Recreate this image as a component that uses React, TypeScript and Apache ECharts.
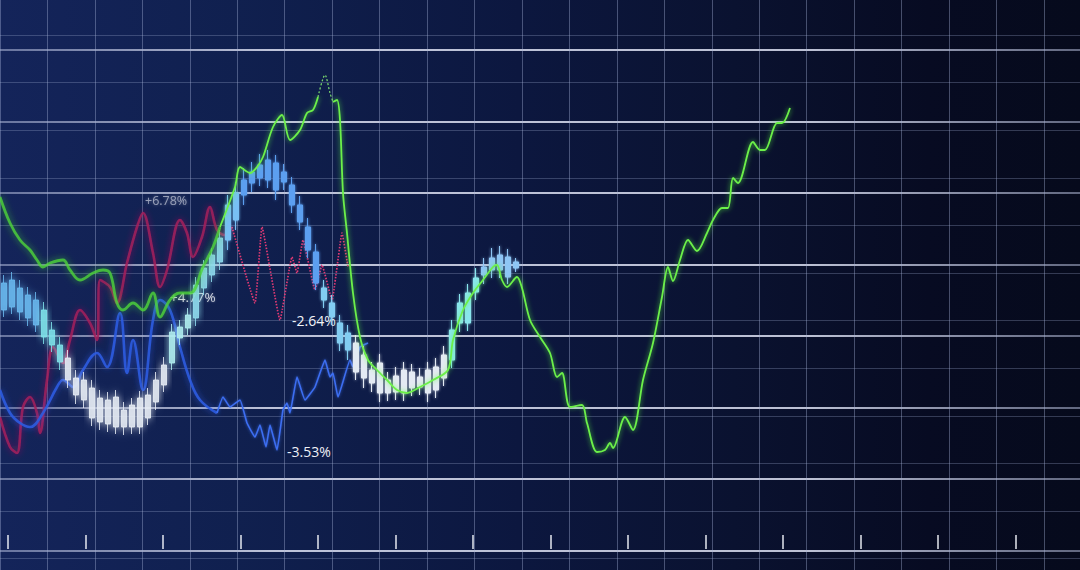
import React, { useEffect, useRef } from "react";
import * as echarts from "echarts";

// time (x) in units of the data axis, price (y)
const greenBlurred = [
  [0, 37.3], [1.0, 34.7], [2.0, 33.0], [3.0, 32.0], [3.7, 31.0], [4.3, 30.3], [5.0, 30.7],
  [6.3, 31.0], [7.0, 30.0], [8.0, 29.0], [9.3, 29.7], [10.3, 30.0], [11.0, 29.7], [11.7, 26.7],
  [12.3, 26.0], [13.3, 26.7], [14.3, 26.0], [15.3, 27.7], [16.0, 25.3], [17.0, 27.0], [18.0, 27.7],
  [19.0, 27.7], [20.3, 30.3], [21.3, 32.3], [22.0, 34.3],
];
const greenRise = [
  [22.0, 34.3], [23.5, 38.3], [24.0, 40.3], [25.0, 39.7], [25.7, 40.3], [26.3, 41.3], [27.3, 44.3],
  [28.2, 45.5], [29.0, 43.0], [30.0, 44.0], [30.7, 45.7], [31.3, 46.0], [31.8, 47.3],
];
const greenPeak = [[31.8, 47.3], [32.5, 49.5], [33.0, 47.7], [33.3, 46.8]];
const greenMain = [
  [33.3, 46.8], [33.7, 47.0], [34.0, 45.0], [34.3, 37.7], [34.7, 33.7], [35.3, 27.7], [36.0, 23.3],
  [36.8, 21.0], [37.7, 20.0], [38.7, 19.0], [39.7, 18.0], [40.7, 17.7], [42.0, 18.3], [43.3, 19.0],
  [44.8, 20.0], [45.3, 23.0], [46.3, 26.0], [47.3, 27.7], [48.3, 29.0], [49.3, 30.3], [49.7, 30.5],
  [50.2, 29.0], [50.7, 28.3], [51.7, 29.3], [52.2, 28.2], [53.0, 25.0], [54.0, 23.3], [55.0, 21.7],
  [55.7, 19.3], [56.2, 19.7], [57.0, 16.3], [58.2, 16.5], [58.7, 14.7], [59.7, 11.8], [60.5, 12.0],
  [61.0, 12.7], [61.3, 12.2], [62.5, 15.3], [63.3, 14.0], [64.3, 19.0], [65.3, 22.7], [66.2, 27.3],
  [66.8, 30.3], [67.3, 28.9], [68.0, 31.0], [68.8, 33.0], [69.7, 31.9], [70.7, 33.7], [71.3, 35.0],
  [72.2, 36.2], [72.8, 36.2], [73.3, 39.2], [73.8, 38.7], [75.3, 42.8], [76.0, 42.0], [76.5, 42.0],
  [77.7, 44.7], [78.2, 44.7], [79.0, 46.2],
];
const redSolid = [
  [0, 15.3], [1.0, 12.3], [1.7, 11.7], [2.3, 16.3], [3.0, 17.3], [3.7, 15.7], [4.0, 13.7],
  [4.7, 19.0], [5.3, 22.3], [6.3, 20.7], [7.0, 23.0], [8.0, 26.0], [9.0, 24.7], [9.7, 23.0],
  [10.0, 29.0], [11.0, 28.3], [11.7, 26.7], [12.7, 30.7], [13.7, 34.3], [14.3, 35.7], [15.3, 31.7],
  [16.0, 28.3], [16.7, 30.0], [18.0, 35.0], [18.7, 33.7], [19.3, 31.3], [20.2, 33.3], [21.0, 36.3],
  [21.7, 34.0], [22.5, 33.5], [23.2, 34.3],
];
const redDotted = [
  [23.2, 34.3], [25.5, 26.7], [26.2, 34.3], [28.0, 25.0], [29.2, 31.3], [29.7, 29.7], [30.3, 33.0],
  [31.5, 28.0], [32.2, 30.5], [33.2, 27.0], [34.2, 33.7], [34.8, 30.3],
];
const blueSmooth = [
  [0, 18.0], [1.0, 15.7], [2.0, 14.7], [3.0, 14.3], [4.3, 15.7], [5.7, 18.3], [6.3, 19.0],
  [7.3, 18.3], [8.3, 20.0], [9.7, 21.7], [10.7, 20.3], [12.0, 25.7], [12.7, 19.7], [13.3, 23.0],
  [14.3, 18.0], [15.3, 25.0], [16.0, 27.0], [17.0, 26.0], [18.0, 22.3], [19.0, 19.0], [20.0, 17.0],
  [21.7, 15.7],
];
const blueJagged = [
  [21.7, 15.7], [22.3, 17.3], [23.0, 16.3], [24.0, 17.0], [24.7, 14.7], [25.5, 13.3], [26.0, 14.5],
  [26.6, 12.3], [27.0, 14.5], [27.7, 12.0], [28.3, 16.0], [28.7, 16.7], [29.0, 15.7], [29.7, 19.3],
  [30.5, 17.0], [31.5, 18.3], [32.5, 21.0], [33.0, 19.3], [33.3, 19.7], [33.8, 17.3], [35.0, 21.0],
  [35.3, 20.3], [36.0, 22.3], [36.8, 22.7],
];
// [open, close, low, high]
const candles = [
  [26.0, 28.7, 25.3, 29.5], [26.3, 29.0, 25.6, 29.8], [25.8, 28.2, 25.0, 29.0], [25.2, 27.5, 24.4, 28.3],
  [24.5, 27.0, 23.8, 27.8], [23.3, 26.0, 22.6, 26.8], [22.5, 24.0, 21.8, 24.8], [20.8, 22.5, 20.0, 23.3],
  [19.0, 21.2, 18.2, 22.0], [17.5, 19.2, 16.6, 20.0], [17.0, 19.0, 16.2, 19.8], [15.2, 18.2, 14.4, 19.0],
  [14.8, 17.2, 14.0, 18.0], [14.6, 17.0, 13.8, 17.8], [14.3, 17.3, 13.6, 18.0], [14.3, 16.0, 13.5, 16.8],
  [14.3, 16.5, 13.6, 17.2], [14.3, 17.2, 13.6, 17.9], [15.2, 17.5, 14.5, 18.2], [16.8, 19.0, 16.0, 19.8],
  [18.5, 20.5, 17.8, 21.3], [20.7, 23.8, 20.0, 24.6], [23.2, 24.3, 22.5, 25.0], [24.2, 25.5, 23.5, 26.2],
  [25.2, 28.5, 24.4, 29.3], [28.2, 30.2, 27.5, 31.0], [29.5, 31.5, 28.8, 32.2], [30.8, 33.2, 30.0, 34.0],
  [33.0, 36.5, 32.0, 37.5], [35.0, 37.7, 34.0, 38.8], [37.5, 39.0, 36.5, 40.2], [38.7, 39.8, 37.8, 40.8],
  [39.2, 40.5, 38.4, 41.6], [39.0, 41.0, 38.2, 42.0], [38.0, 40.7, 37.0, 41.5], [38.8, 39.8, 38.0, 40.6],
  [36.5, 38.5, 35.7, 39.3], [34.8, 36.5, 34.0, 37.4], [32.0, 34.3, 31.2, 35.2], [28.7, 31.8, 28.0, 32.6],
  [27.0, 28.2, 26.2, 29.0], [25.3, 26.7, 24.5, 27.5], [22.7, 24.7, 21.9, 25.5], [22.0, 23.7, 21.0, 24.5],
  [19.8, 22.7, 19.0, 23.5], [19.2, 21.5, 18.2, 22.4], [18.7, 20.0, 17.8, 20.8], [17.7, 20.7, 16.8, 21.6],
  [17.7, 19.0, 16.9, 19.8], [17.8, 19.4, 17.0, 20.3], [17.7, 20.0, 16.9, 20.8], [18.2, 19.8, 17.4, 20.6],
  [18.3, 19.3, 17.5, 20.2], [17.7, 20.0, 16.8, 20.8], [18.0, 20.3, 17.2, 21.2], [19.2, 21.5, 18.4, 22.4],
  [21.0, 24.0, 20.2, 25.0], [24.7, 26.7, 23.8, 27.6], [24.7, 27.7, 23.9, 28.6], [27.8, 29.2, 27.0, 30.2],
  [29.5, 30.3, 28.6, 31.2], [30.0, 31.2, 29.2, 32.2], [30.0, 31.5, 29.2, 32.4], [29.3, 31.3, 28.6, 32.1],
  [30.2, 30.8, 29.8, 31.2],
];
const candleCategories = candles.map((_, i) => "t" + i);
const labels = ["+6.78%", "+4.77%", "-2.64%", "-3.53%"];

function candleColor(i: number): string {
  if (i <= 4) return "#6ab8ee";
  if (i <= 7) return "#7fe3ea";
  if (i <= 20) return "#e6ecf4";
  if (i <= 23) return "#b0eef0";
  if (i <= 27) return "#8fdcee";
  if (i <= 29) return "#78bff5";
  if (i <= 39) return "#5b9ff0";
  if (i <= 43) return "#82cdf2";
  if (i <= 55) return "#e4eaf3";
  if (i <= 59) return "#8ae6ee";
  return "#8ec6f5";
}

export default function App() {
  const ref = useRef<HTMLDivElement>(null);
  useEffect(() => {
    const chart = echarts.init(ref.current!, null, { renderer: "svg" });
    const brightGrad = new echarts.graphic.LinearGradient(
      0, 0, 1080, 0,
      [
        { offset: 0, color: "rgba(190,198,228,0.5)" },
        { offset: 0.25, color: "rgba(220,224,242,0.85)" },
        { offset: 0.75, color: "rgba(220,224,242,0.85)" },
        { offset: 1, color: "rgba(190,198,228,0.5)" },
      ],
      true
    );
    const hiddenAxisParts = {
      axisLine: { show: false },
      axisTick: { show: false },
      axisLabel: { show: false },
    };
    const candleData = candles.map((c, i) => ({
      value: c,
      itemStyle: {
        color: candleColor(i),
        color0: candleColor(i),
        borderColor: candleColor(i),
        borderColor0: candleColor(i),
        opacity: i <= 27 ? 0.85 : 1,
        shadowBlur: i <= 27 ? 7 : 3,
        shadowColor: candleColor(i),
      },
    }));
    const option: any = {
      animation: false,
      backgroundColor: "transparent",
      grid: [
        { left: 0, top: 0, width: 22 * 47.45, height: 570 },
        { left: 0, top: 35.1, width: 1080, height: 11 * 47.6 },
        { left: 0, top: 50, width: 1080, height: 7 * 71.5 },
        { left: 0, top: 0, width: 1080, height: 570 },
        { left: 0, top: 0, width: 520, height: 570 },
        { left: 8, top: 0, width: 13 * 77.5, height: 549 },
      ],
      xAxis: [
        {
          gridIndex: 0, type: "value", min: 0, max: 22, interval: 1, ...hiddenAxisParts,
          splitLine: { show: true, lineStyle: { color: "rgba(165,178,215,0.4)", width: 1 } },
        },
        { gridIndex: 1, type: "value", min: 0, max: 1, show: false },
        { gridIndex: 2, type: "value", min: 0, max: 1, show: false },
        { gridIndex: 3, type: "value", min: 0, max: 108, show: false },
        { gridIndex: 4, type: "category", data: candleCategories, show: false, boundaryGap: true },
        {
          gridIndex: 5, type: "value", min: 0, max: 13, interval: 1,
          axisLine: { show: false },
          axisTick: { show: true, inside: true, length: 14, lineStyle: { color: "rgba(240,243,250,0.95)", width: 1.5 } },
          axisLabel: { show: false },
          splitLine: { show: false },
        },
      ],
      yAxis: [
        { gridIndex: 0, type: "value", min: 0, max: 1, show: false },
        {
          gridIndex: 1, type: "value", min: 0, max: 11, interval: 1, ...hiddenAxisParts,
          splitLine: { show: true, lineStyle: { color: "rgba(160,172,210,0.3)", width: 1 } },
        },
        {
          gridIndex: 2, type: "value", min: 0, max: 7, interval: 1, ...hiddenAxisParts,
          splitLine: { show: true, lineStyle: { color: brightGrad, width: 2 } },
        },
        { gridIndex: 3, type: "value", min: 0, max: 57, show: false },
        { gridIndex: 4, type: "value", min: 0, max: 57, show: false },
        { gridIndex: 5, type: "value", min: 0, max: 1, show: false },
      ],
      series: [
        {
          type: "line", xAxisIndex: 3, yAxisIndex: 3, data: redSolid, smooth: 0.35, showSymbol: false, z: 3,
          lineStyle: { color: "#a41f5c", width: 2.6, opacity: 0.85, shadowBlur: 6, shadowColor: "rgba(170,30,90,0.8)" },
        },
        {
          type: "line", xAxisIndex: 3, yAxisIndex: 3, data: redDotted, smooth: 0.1, showSymbol: false, z: 3,
          lineStyle: { color: "#e23a74", width: 1.7, type: [1.5, 1.5] },
        },
        {
          type: "line", xAxisIndex: 3, yAxisIndex: 3, data: blueSmooth, smooth: 0.4, showSymbol: false, z: 3,
          lineStyle: { color: "#2d5be0", width: 2.6, opacity: 0.9, shadowBlur: 6, shadowColor: "rgba(45,90,230,0.8)" },
        },
        {
          type: "line", xAxisIndex: 3, yAxisIndex: 3, data: blueJagged, smooth: 0.1, showSymbol: false, z: 3,
          lineStyle: { color: "#3c6ef2", width: 1.6, shadowBlur: 3, shadowColor: "rgba(60,110,240,0.7)" },
        },
        {
          type: "candlestick", xAxisIndex: 4, yAxisIndex: 4, data: candleData, barWidth: 6, z: 4,
        },
        {
          type: "line", xAxisIndex: 3, yAxisIndex: 3, data: greenBlurred, smooth: 0.4, showSymbol: false, z: 5,
          lineStyle: { color: "#4fd43a", width: 2.8, opacity: 0.8, shadowBlur: 7, shadowColor: "rgba(70,220,50,0.8)" },
        },
        {
          type: "line", xAxisIndex: 3, yAxisIndex: 3, data: greenRise, smooth: 0.3, showSymbol: false, z: 5,
          lineStyle: { color: "#6cf04a", width: 1.8, shadowBlur: 5, shadowColor: "rgba(90,255,60,0.8)" },
        },
        {
          type: "line", xAxisIndex: 3, yAxisIndex: 3, data: greenPeak, smooth: 0.3, showSymbol: false, z: 5,
          lineStyle: { color: "#7ee070", width: 1.2, type: [2, 2] },
        },
        {
          type: "line", xAxisIndex: 3, yAxisIndex: 3, data: greenMain, smooth: 0.3, showSymbol: false, z: 5,
          lineStyle: { color: "#6cf04a", width: 1.8, shadowBlur: 5, shadowColor: "rgba(90,255,60,0.8)" },
        },
      ],
      graphic: [
        {
          type: "text", z: 1, style: {
            x: 145, y: 200, text: labels[0], fill: "rgba(225,228,240,0.6)", font: "12.5px 'Open Sans'",
            verticalAlign: "middle", textShadowBlur: 3, textShadowColor: "rgba(255,255,255,0.5)",
          },
        },
        {
          type: "text", z: 1, style: {
            x: 170, y: 297, text: labels[1], fill: "rgba(235,238,245,0.85)", font: "13.5px 'Open Sans'",
            verticalAlign: "middle", textShadowBlur: 2, textShadowColor: "rgba(255,255,255,0.4)",
          },
        },
        {
          type: "text", z: 1, style: {
            x: 292, y: 320, text: labels[2], fill: "#f2f4f8", font: "14px 'Open Sans'", verticalAlign: "middle",
          },
        },
        {
          type: "text", z: 1, style: {
            x: 287, y: 451, text: labels[3], fill: "#eef0f6", font: "14px 'Open Sans'", verticalAlign: "middle",
          },
        },
      ],
    };
    chart.setOption(option);
    return () => chart.dispose();
  }, []);
  return (
    <div
      ref={ref}
      style={{
        position: "fixed",
        left: 0,
        top: 0,
        width: 1080,
        height: 570,
        background:
          "linear-gradient(90deg, #14245a 0%, #10204f 22%, #0c173f 48%, #0a1230 68%, #070b22 86%, #060a1c 100%)",
      }}
    />
  );
}
